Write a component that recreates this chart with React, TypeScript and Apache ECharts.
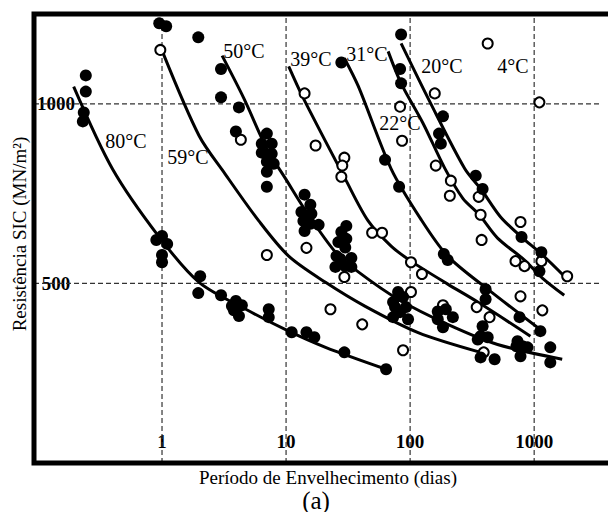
import React, { useEffect, useRef } from 'react';
import * as echarts from 'echarts';

// Tick values shown on the axes
const xTickValues = [1, 10, 100, 1000];
const yTickValues = [500, 1000];
const xRange = [0.0929, 3724];
const yRange = [0, 1250];

// Measured points: [days, MN/m²]
const filledPoints: [number, number][] = [
  [0.243, 1079], [0.243, 1034], [0.234, 976], [0.23, 951],
  [0.9, 621], [1.0, 632], [1.1, 610], [1.0, 579], [1.0, 559],
  [2.03, 520], [1.96, 473], [2.99, 467], [3.94, 451], [3.8, 425], [4.17, 409], [4.4, 439], [3.66, 437],
  [7.25, 428], [7.25, 406], [11.1, 364], [14.6, 364], [16.9, 350], [29.5, 308], [64, 261],
  [0.95, 1224], [1.08, 1216], [1.96, 1185],
  [2.99, 1097], [2.99, 1018], [4.17, 990], [3.94, 923],
  [7.0, 917], [7.66, 889], [6.37, 889], [6.37, 864], [7.66, 861], [7.0, 839], [7.95, 833], [7.0, 811], [7.0, 769],
  [14.1, 747], [15.7, 719], [13.3, 699], [16.0, 694], [13.8, 674], [15.7, 666], [18.3, 663], [14.1, 646],
  [30.6, 660], [27.9, 643], [30.6, 624], [26.4, 615], [30.0, 600], [25.5, 576], [33.6, 571], [27.4, 568], [25.0, 546], [30.0, 548], [33.6, 546],
  [27.9, 1115], [62.8, 844], [81.5, 769],
  [84.6, 1193], [83.0, 1097], [84.6, 1057],
  [184, 965], [171, 917], [177, 889], [338, 800], [384, 763], [791, 629], [1143, 587], [1102, 534],
  [187, 582], [201, 565],
  [406, 484], [406, 456], [762, 406], [1122, 367],
  [80, 476], [87.7, 462], [75.6, 434], [92.7, 434], [72.9, 406], [96.2, 400], [83, 420], [72.9, 448],
  [167, 422], [194, 428], [221, 406], [167, 400], [184, 378],
  [384, 381], [370, 353], [422, 350], [351, 344], [370, 294], [480, 289],
  [734, 339], [805, 325], [883, 322], [776, 297], [720, 325],
  [1349, 322], [1349, 280],
];

const openPoints: [number, number][] = [
  [0.969, 1150], [4.32, 900], [7.0, 579], [14.1, 1029], [17.3, 884], [29.5, 850], [28.4, 828], [27.9, 797],
  [14.6, 599], [29.5, 518], [49.4, 641], [59.4, 641], [22.8, 428], [41.1, 386], [87.7, 314],
  [83, 992], [86.1, 897], [158, 1029], [161, 828], [213, 786], [209, 744], [357, 741], [370, 691], [377, 621],
  [422, 1168], [1102, 1004],
  [776, 671], [707, 562], [836, 548], [1143, 562], [1846, 520],
  [101.6, 559], [124.5, 526], [101.6, 476],
  [776, 464], [1164, 425], [344, 434], [437, 406], [184, 439], [392, 308],
];

// Fitted curves per temperature
const curve80: [number, number][] = [[0.194, 1048], [0.4, 818], [0.95, 629], [1.99, 503], [4.74, 428], [10.5, 367], [20.8, 322], [64, 261]];
const curve59: [number, number][] = [[1.02, 1141], [1.99, 911], [3.22, 805], [6.03, 674], [10.5, 576], [20.8, 503], [43.5, 436], [116, 363], [370, 308]];
const curve50: [number, number][] = [[3.05, 1134], [4.57, 1015], [7.0, 875], [9.93, 791], [14.4, 702], [25.0, 587], [38.2, 532], [80, 456], [201, 386], [507, 330], [1683, 289]];
const curve39: [number, number][] = [[10.5, 1104], [13.8, 1015], [30.0, 791], [45.9, 674], [70.3, 604], [101.6, 562], [201, 498], [351, 448], [933, 353]];
const curve31: [number, number][] = [[29.5, 1127], [38.2, 1049], [70.3, 819], [122, 679], [201, 576], [422, 484], [1164, 367]];
const curve22: [number, number][] = [[66.5, 1146], [84.6, 1057], [127, 946], [190, 821], [266, 737], [357, 693], [507, 626], [836, 565], [1164, 515], [1747, 467]];
const curve20: [number, number][] = [[84.6, 1168], [144, 1006], [276, 819], [377, 760], [536, 685], [791, 629], [1143, 582], [1846, 512]];

const curves = [curve80, curve59, curve50, curve39, curve31, curve22, curve20];

const tempLabels = ['80°C', '59°C', '50°C', '39°C', '31°C', '22°C', '20°C', '4°C'];
const tempLabelPos: [number, number][] = [
  [126, 141], [188, 157], [244, 51], [311, 59], [367, 54], [400, 123], [442, 66], [513, 66],
];

export default function App() {
  const ref = useRef<HTMLDivElement>(null);
  useEffect(() => {
    const chart = echarts.init(ref.current!, null, { renderer: 'svg' });
    const serif = "'Liberation Serif', 'Times New Roman', serif";
    const isXTick = (v: number) => xTickValues.some((t) => Math.abs(v - t) / t < 1e-6);
    const gridStyle = { color: '#333', type: [5, 3] as number[], width: 1.2 };
    const gridSeries = [
      ...xTickValues.map((v) => ({
        type: 'line', data: [[v, yRange[0]], [v, yRange[1]]], symbol: 'none', silent: true, z: 1,
        lineStyle: gridStyle,
      })),
      ...yTickValues.map((v) => ({
        type: 'line', data: [[xRange[0], v], [xRange[1], v]], symbol: 'none', silent: true, z: 1,
        lineStyle: gridStyle,
      })),
    ];
    const lineSeries = curves.map((c) => ({
      type: 'line', data: c, smooth: 0.3, symbol: 'none', silent: true, z: 3,
      lineStyle: { color: '#000', width: 3 },
    }));
    chart.setOption({
      animation: false,
      grid: { left: 34, top: 14, right: 0, bottom: 49, show: false },
      xAxis: {
        type: 'log', logBase: 10, min: xRange[0], max: xRange[1],
        axisLine: { show: false }, axisTick: { show: false }, splitLine: { show: false },
        axisLabel: {
          inside: true, margin: 12,
          formatter: (v: number) => (isXTick(v) ? String(Math.round(v)) : ''),
          fontFamily: serif, fontSize: 19, fontWeight: 'bold', color: '#000',
        },
      },
      yAxis: {
        type: 'value', min: yRange[0], max: yRange[1], interval: 500,
        axisLine: { show: false }, axisTick: { show: false }, splitLine: { show: false },
        axisLabel: {
          inside: true, margin: 22, align: 'center',
          formatter: (v: number) => (yTickValues.includes(v) ? String(v) : ''),
          fontFamily: serif, fontSize: 19, fontWeight: 'bold', color: '#000',
        },
      },
      series: [
        ...gridSeries,
        ...lineSeries,
        {
          type: 'scatter', data: openPoints, symbol: 'circle', symbolSize: 10, z: 4, silent: true,
          itemStyle: { color: '#fff', borderColor: '#000', borderWidth: 2, opacity: 1 },
        },
        {
          type: 'scatter', data: filledPoints, symbol: 'circle', symbolSize: 12, z: 5, silent: true,
          itemStyle: { color: '#000', opacity: 1 },
        },
      ],
      graphic: [
        {
          type: 'rect', z: 150, silent: true,
          shape: { x: 602, y: 17, width: 12, height: 443 },
          style: { fill: '#fff', stroke: 'none' },
        },
        {
          type: 'polyline', z: 200, silent: true,
          shape: { points: [[640, 14], [34, 14], [34, 463], [640, 463]] },
          style: { fill: 'none', stroke: '#000', lineWidth: 5 },
        },
        ...tempLabels.map((t, i) => ({
          type: 'text', x: tempLabelPos[i][0], y: tempLabelPos[i][1], z: 10,
          style: { text: t, fontSize: 20, fontFamily: serif, fill: '#000', align: 'center', verticalAlign: 'middle' },
        })),
        {
          type: 'text', x: 19, y: 234, rotation: Math.PI / 2,
          style: { text: 'Resistência SIC (MN/m²)', fontSize: 19, fontFamily: serif, fill: '#000', align: 'center', verticalAlign: 'middle' },
        },
        {
          type: 'text', x: 328, y: 477,
          style: { text: 'Período de Envelhecimento (dias)', fontSize: 19, fontFamily: serif, fill: '#000', align: 'center', verticalAlign: 'middle' },
        },
        {
          type: 'text', x: 316, y: 500,
          style: { text: '(a)', fontSize: 25, fontFamily: serif, fill: '#000', align: 'center', verticalAlign: 'middle' },
        },
      ],
    });
    return () => chart.dispose();
  }, []);
  return <div ref={ref} style={{ position: 'absolute', left: 0, top: 0, width: 608, height: 512 }} />;
}
